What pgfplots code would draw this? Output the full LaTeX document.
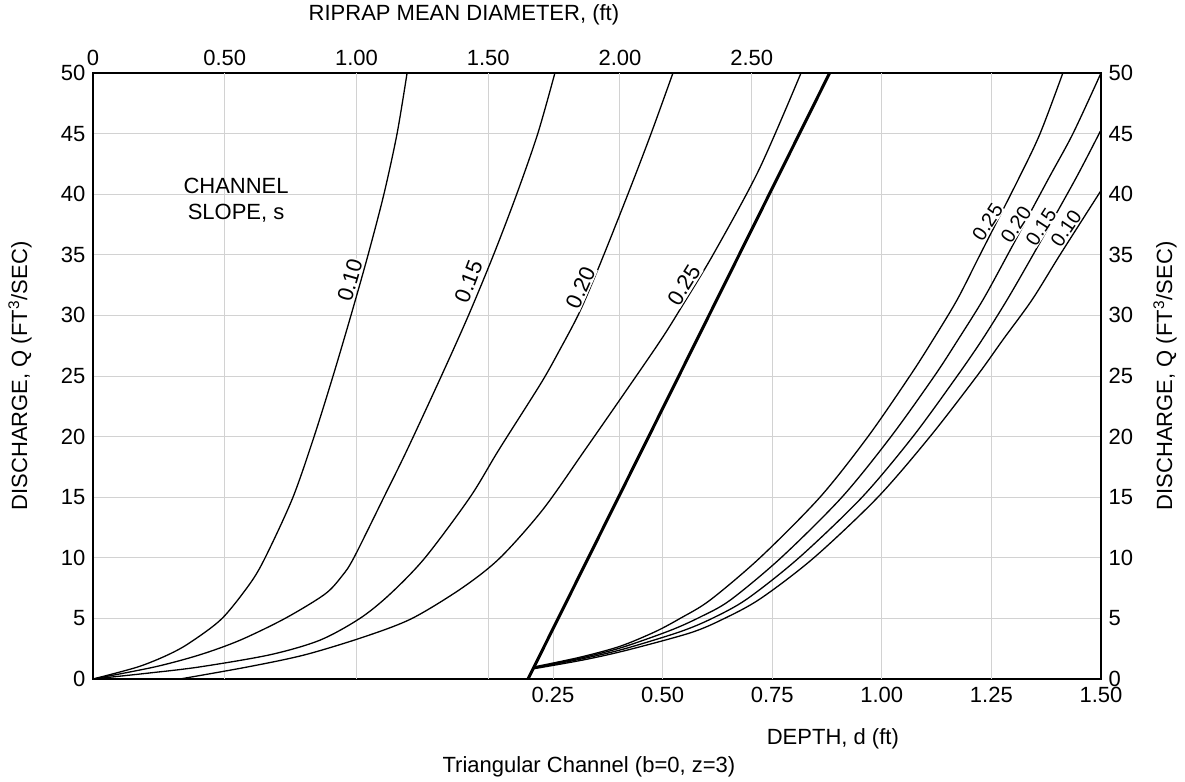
\documentclass[border=0pt]{standalone}
\usepackage{fontspec}
\setmainfont{Liberation Sans}
\usepackage{pgfplots}
\pgfplotsset{compat=1.18}
\begin{document}
\fontsize{11}{13}\selectfont
\begin{tikzpicture}[font=\fontsize{11}{13}\selectfont]
\useasboundingbox (-46.5pt,-51.5pt) rectangle (546pt,339.5pt);
\tikzset{lab/.style={fill=white, inner sep=0.6pt},
         rlab/.style={fill=white, inner sep=0.3pt, font=\fontsize{10}{12}\selectfont}}
\pgfplotsset{
  base/.style={
    width=504pt, height=303pt, scale only axis,
    at={(0,0)}, anchor=south west,
    ymin=0, ymax=50,
    /pgf/number format/assume math mode=true,
    major tick length=0pt,
    clip mode=individual,
  },
  curve/.style={black, line width=0.65pt, smooth, tension=0.5},
  gridl/.style={gray!35, line width=0.5pt, forget plot},
}
% ---------------- Axis A: riprap mean diameter (top) ----------------
\begin{axis}[base,
  xmin=0, xmax=3.8255,
  xtick={0,0.5,1,1.5,2,2.5},
  xticklabels={0,0.50,1.00,1.50,2.00,2.50},
  xticklabel pos=upper,
  ytick={0,5,...,50},
  yticklabel pos=left,
  ymajorgrids, grid style={gray!35, line width=0.5pt},
  axis line style={line width=1.3pt},
]
% vertical grid (riprap), left of the turning line
\addplot[gridl] coordinates {(0.5,0) (0.5,50)};
\addplot[gridl] coordinates {(1.0,0) (1.0,50)};
\addplot[gridl] coordinates {(1.5,0) (1.5,50)};
\addplot[gridl] coordinates {(2.0,15.1) (2.0,50)};
\addplot[gridl] coordinates {(2.5,36.8) (2.5,50)};
% slope curves vs riprap diameter
\addplot[curve] coordinates {(0,0) (0.171,1) (0.285,2) (0.368,3) (0.490,5) (0.600,8) (0.660,10.3) (0.759,15) (0.839,20) (0.911,25) (0.979,30) (1.044,35) (1.104,40) (1.154,45) (1.192,50)};
\addplot[curve] coordinates {(0,0) (0.235,1) (0.406,2) (0.558,3.2) (0.729,5) (0.880,7) (0.945,8.5) (0.990,10) (1.104,15) (1.192,18.9) (1.320,24.9) (1.425,30) (1.522,35.1) (1.608,40) (1.688,45) (1.753,50)};
\addplot[curve] coordinates {(0,0) (0.216,0.5) (0.406,1) (0.672,2) (0.861,3.2) (1.013,5) (1.127,7) (1.260,10) (1.431,15) (1.540,18.9) (1.700,24.4) (1.770,27.1) (1.845,30.2) (1.920,34) (2.030,40) (2.118,45) (2.201,50)};
\addplot[curve] coordinates {(0.330,0) (0.588,1) (0.805,2) (1.032,3.5) (1.211,5) (1.400,7.5) (1.545,10) (1.708,14) (1.867,18.9) (2.030,24) (2.156,28) (2.231,30.6) (2.353,35) (2.527,42) (2.687,50)};
% curve labels
\node[lab, rotate=74] at (axis cs:0.975,32.9) {0.10};
\node[lab, rotate=69] at (axis cs:1.425,32.8) {0.15};
\node[lab, rotate=66] at (axis cs:1.850,32.3) {0.20};
\node[lab, rotate=58] at (axis cs:2.243,32.5) {0.25};
\node[align=center] at (axis cs:0.543,39.5) {CHANNEL\\SLOPE, s};
% titles
\node at ([yshift=29pt]rel axis cs:0.368,1) {RIPRAP MEAN DIAMETER, (ft)};
\node[rotate=90] at ([xshift=-36.5pt]rel axis cs:0,0.5) {DISCHARGE, Q (FT\textsuperscript{3}/SEC)};
\end{axis}
% ---------------- Axis B: depth (bottom) ----------------
\begin{axis}[base,
  xmin=-0.7993, xmax=1.5,
  xtick={0.25,0.5,0.75,1.0,1.25,1.5},
  xticklabels={0.25,0.50,0.75,1.00,1.25,1.50},
  xticklabel pos=lower,
  ytick={0,5,...,50},
  yticklabel pos=right,
  axis line style={draw=none},
]
% vertical grid (depth), right of the turning line
\addplot[gridl] coordinates {(0.25,0) (0.25,4.1)};
\addplot[gridl] coordinates {(0.5,0) (0.5,22.2)};
\addplot[gridl] coordinates {(0.75,0) (0.75,40.2)};
\addplot[gridl] coordinates {(1.0,0) (1.0,50)};
\addplot[gridl] coordinates {(1.25,0) (1.25,50)};
% turning line
\addplot[black, line width=1.5pt] coordinates {(0.193,0) (0.881,50)};
% slope curves vs depth
\addplot[curve] coordinates {(0.207,1.0) (0.312,1.8) (0.403,2.7) (0.483,3.9) (0.540,5.0) (0.608,6.5) (0.722,10) (0.859,15) (0.9685,20) (1.064,25) (1.117,28) (1.172,31.3) (1.224,35) (1.311,41.2) (1.361,45) (1.413,50)};
\addplot[curve] coordinates {(0.207,0.95) (0.316,1.75) (0.407,2.6) (0.517,4.0) (0.585,5.1) (0.654,6.5) (0.770,10) (0.909,15) (1.021,20) (1.120,25) (1.174,28) (1.231,31.3) (1.287,35) (1.379,41.2) (1.436,45) (1.5,50)};
\addplot[curve] coordinates {(0.207,0.9) (0.321,1.7) (0.414,2.5) (0.540,3.9) (0.613,5.0) (0.6925,6.6) (0.811,10) (0.955,15) (1.071,20) (1.172,25) (1.229,28) (1.286,31.3) (1.345,35) (1.441,41.2) (1.5,45.3)};
\addplot[curve] coordinates {(0.207,0.85) (0.323,1.6) (0.421,2.4) (0.5625,3.8) (0.6355,4.9) (0.722,6.6) (0.845,10) (0.991,15) (1.110,20) (1.217,25) (1.2765,28) (1.343,31.3) (1.4065,35) (1.5,40.3)};
% curve labels
\node[rlab, rotate=57] at (axis cs:1.241,37.7) {0.25};
\node[rlab, rotate=57] at (axis cs:1.306,37.5) {0.20};
\node[rlab, rotate=57] at (axis cs:1.363,37.3) {0.15};
\node[rlab, rotate=56] at (axis cs:1.420,37.2) {0.10};
% titles
\node at ([yshift=-30pt]rel axis cs:0.734,0) {DEPTH, d (ft)};
\node at ([yshift=-44pt]rel axis cs:0.492,0) {Triangular Channel (b=0, z=3)};
\node[rotate=90] at ([xshift=32pt]rel axis cs:1,0.5) {DISCHARGE, Q (FT\textsuperscript{3}/SEC)};
\end{axis}
\end{tikzpicture}
\end{document}
